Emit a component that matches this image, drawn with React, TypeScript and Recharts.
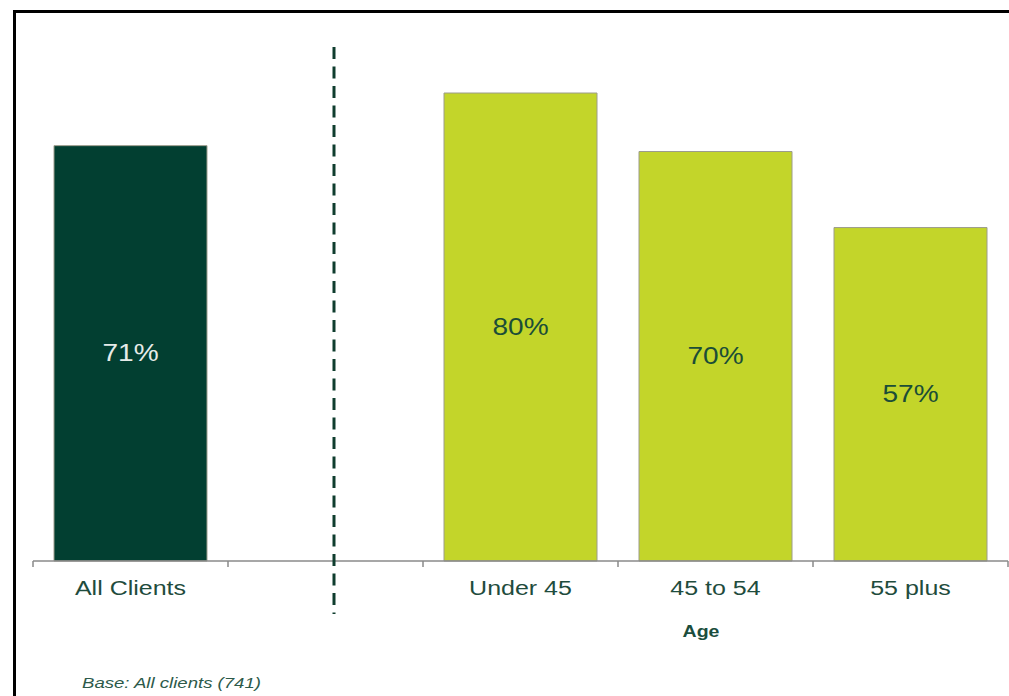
import { BarChart, Bar, XAxis, YAxis, Cell, LabelList } from "recharts"

const categories = ["All Clients", " ", "Under 45", "45 to 54", "55 plus"]
const values: (number | null)[] = [71, null, 80, 70, 57]
const barColors = ["#023f31", "#c3d52a", "#c3d52a", "#c3d52a", "#c3d52a"]
const labelColors = ["#e6ebe8", "#1b4d37", "#1b4d37", "#1b4d37", "#1b4d37"]

const data = categories.map((name, i) => ({ name, value: values[i] }))

const FONT = "'Liberation Sans', Arial, sans-serif"
const HALF_BAND = 97.5

// the source text looks horizontally stretched, so widen it a little
function Wide({ x, y, sx, children, ...rest }: any) {
  return (
    <text transform={`translate(${x},${y}) scale(${sx},1)`} fontFamily={FONT} {...rest}>
      {children}
    </text>
  )
}

function BoundaryTick(props: any) {
  const { x, y, payload, index } = props
  const last = index === categories.length - 1
  return (
    <g>
      <line x1={x - HALF_BAND} y1={y - 8} x2={x - HALF_BAND} y2={y - 2} stroke="#8a8a8a" strokeWidth={1.5} />
      {last && (
        <line x1={x + HALF_BAND} y1={y - 8} x2={x + HALF_BAND} y2={y - 2} stroke="#8a8a8a" strokeWidth={1.5} />
      )}
      <Wide x={x} y={y + 26} sx={1.25} textAnchor="middle" fontSize={20} fill="#1f4c3d">
        {payload.value}
      </Wide>
    </g>
  )
}

export default function App() {
  return (
    <div style={{ position: "fixed", left: 0, top: 0, width: 1009, height: 696, background: "#fff", overflow: "hidden" }}>
      <div
        style={{
          position: "absolute",
          left: 13,
          top: 10,
          width: 1100,
          height: 800,
          borderLeft: "3px solid #000",
          borderTop: "3px solid #000",
          boxSizing: "border-box",
        }}
      />
      <BarChart
        width={1009}
        height={696}
        data={data}
        margin={{ top: 34.5, right: 1, left: 33, bottom: 0 }}
        style={{ position: "absolute", left: 0, top: 0 }}
      >
        <XAxis
          dataKey="name"
          height={135}
          axisLine={{ stroke: "#8a8a8a", strokeWidth: 1.5 }}
          tickLine={false}
          tick={<BoundaryTick />}
          interval={0}
        />
        <YAxis hide domain={[0, 90]} />
        <Bar dataKey="value" barSize={153} stroke="#9c9c8c" strokeWidth={1} isAnimationActive={false}>
          {data.map((d, i) => (
            <Cell key={d.name} fill={barColors[i]} />
          ))}
          <LabelList
            dataKey="value"
            position="center"
            content={(p: any) => {
              if (p.value == null) return null
              const i = p.index
              return (
                <Wide
                  x={p.x + p.width / 2}
                  y={p.y + p.height / 2}
                  sx={1.22}
                  textAnchor="middle"
                  dominantBaseline="central"
                  fontSize={23}
                  fill={labelColors[i]}
                >
                  {p.value}%
                </Wide>
              )
            }}
          />
        </Bar>
      </BarChart>
      <svg width={1009} height={696} style={{ position: "absolute", left: 0, top: 0, pointerEvents: "none" }}>
        <line x1={334} y1={47} x2={334} y2={614} stroke="#0f3d2e" strokeWidth={3} strokeDasharray="12 7.5" />
        <Wide x={701} y={637} sx={1.15} textAnchor="middle" fontSize={17} fontWeight="bold" fill="#1b4d3d">
          Age
        </Wide>
        <Wide x={82} y={688} sx={1.24} fontSize={15} fontStyle="italic" fill="#2d5a4a">
          Base: All clients (741)
        </Wide>
      </svg>
    </div>
  )
}
